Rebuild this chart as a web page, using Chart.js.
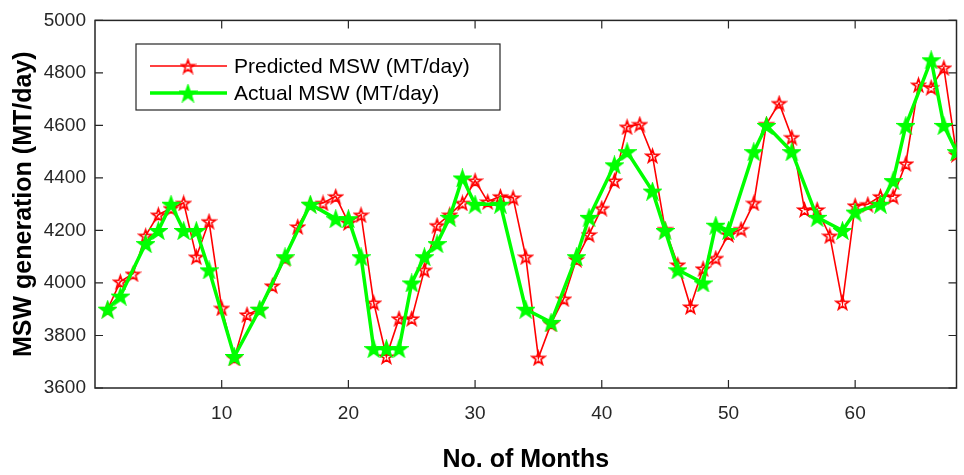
<!DOCTYPE html>
<html>
<head>
<meta charset="utf-8">
<script src="https://cdn.jsdelivr.net/npm/chart.js@4.4.1/dist/chart.umd.min.js"></script>
<style>
  html, body { margin: 0; padding: 0; background: #fff; }
  #wrap { width: 964px; height: 475px; }
</style>
</head>
<body>
<div id="wrap"><canvas id="msw"></canvas></div>
<script>
// predicted series, one value per month
var months = [1, 2, 3, 4, 5, 6, 7, 8, 9, 10, 11, 12, 13, 14, 15, 16, 17, 18, 19, 20,
    21, 22, 23, 24, 25, 26, 27, 28, 29, 30, 31, 32, 33, 34, 35, 36, 37, 38, 39, 40,
    41, 42, 43, 44, 45, 46, 47, 48, 49, 50, 51, 52, 53, 54, 55, 56, 57, 58, 59, 60,
    61, 62, 63, 64, 65, 66, 67, 68];
var predicted = [3900, 4005, 4035, 4180, 4260, 4285, 4305, 4100, 4235, 3905,
    3715, 3880, 3900, 3990, 4095, 4215, 4300, 4305, 4330, 4230,
    4260, 3925, 3720, 3865, 3865, 4050, 4220, 4260, 4305, 4390,
    4310, 4330, 4325, 4100, 3715, 3845, 3940, 4090, 4185, 4285,
    4390, 4595, 4605, 4485, 4205, 4070, 3910, 4055, 4095, 4185,
    4205, 4305, 4605, 4685, 4555, 4280, 4280, 4180, 3925, 4295,
    4300, 4330, 4330, 4455, 4755, 4745, 4820, 4490];

// actual series is only given for some months
var actualMonths = [1, 2, 4, 5, 6, 7, 8, 9, 11, 13, 15, 17, 19, 20, 21, 22, 23, 24, 25, 26,
    27, 28, 29, 30, 32, 34, 36, 38, 39, 41, 42, 44, 45, 46, 48, 49, 50, 52, 53, 55,
    57, 59, 60, 62, 63, 64, 66, 67, 68];
var actual = [3900, 3950, 4150, 4200, 4300, 4200, 4200, 4050, 3720, 3900,
    4100, 4300, 4245, 4245, 4100, 3750, 3750, 3750, 4000, 4100,
    4150, 4250, 4400, 4300, 4300, 3900, 3850, 4100, 4250, 4450,
    4500, 4350, 4200, 4050, 4000, 4220, 4200, 4500, 4600, 4500,
    4250, 4200, 4270, 4300, 4390, 4600, 4850, 4600, 4500];

var seriesNames = ['Predicted MSW (MT/day)', 'Actual MSW (MT/day)'];
var xTicks = [10, 20, 30, 40, 50, 60];
var yTicks = [3600, 3800, 4000, 4200, 4400, 4600, 4800, 5000];

var FONT = "'Liberation Sans', Arial, Helvetica, sans-serif";
var AXIS = '#262626';

// pentagram marker like matlab's 'p'
function starImage(size, stroke, fill, lw) {
    var c = document.createElement('canvas');
    c.width = size; c.height = size;
    var g = c.getContext('2d');
    var cx = size / 2, cy = size / 2 + size * 0.05;
    var R = size / 2 - lw, r = R * 0.4;
    g.beginPath();
    for (var i = 0; i < 10; i++) {
        var a = -Math.PI / 2 + i * Math.PI / 5;
        var rad = i % 2 ? r : R;
        g.lineTo(cx + rad * Math.cos(a), cy + rad * Math.sin(a));
    }
    g.closePath();
    if (fill) { g.fillStyle = fill; g.fill(); }
    g.lineWidth = lw;
    g.strokeStyle = stroke;
    g.lineJoin = 'miter';
    g.stroke();
    return c;
}

var redStar = starImage(17, '#ff0000', null, 1.7);
var greenStar = starImage(19, '#00ff00', '#00ff00', 2.8);

function toPoints(xs, ys) {
    return xs.map(function (x, i) { return { x: x, y: ys[i] }; });
}

var frame = {
    id: 'frame',
    beforeDatasetsDraw: function (chart) {
        var ctx = chart.ctx, a = chart.chartArea;
        var xs = chart.scales.x, ys = chart.scales.y;
        var len = 8;
        ctx.save();
        ctx.strokeStyle = AXIS;
        ctx.lineWidth = 1.5;
        ctx.strokeRect(a.left, a.top, a.right - a.left, a.bottom - a.top);
        ctx.lineWidth = 1.2;
        ctx.beginPath();
        xs.ticks.forEach(function (t) {
            var px = xs.getPixelForValue(t.value);
            ctx.moveTo(px, a.bottom); ctx.lineTo(px, a.bottom - len);
            ctx.moveTo(px, a.top); ctx.lineTo(px, a.top + len);
        });
        ys.ticks.forEach(function (t) {
            var py = ys.getPixelForValue(t.value);
            ctx.moveTo(a.left, py); ctx.lineTo(a.left + len, py);
            ctx.moveTo(a.right, py); ctx.lineTo(a.right - len, py);
        });
        ctx.stroke();
        ctx.restore();
    },
    afterDraw: function (chart) {
        // legend box, top left like the original figure
        var ctx = chart.ctx;
        var bx = 136, by = 44, bw = 364, bh = 66;
        var rows = [
            { y: 66, color: '#ff0000', lw: 1.6, img: redStar },
            { y: 93, color: '#00ff00', lw: 3.5, img: greenStar }
        ];
        ctx.save();
        ctx.fillStyle = '#fff';
        ctx.fillRect(bx, by, bw, bh);
        ctx.strokeStyle = AXIS;
        ctx.lineWidth = 1.2;
        ctx.strokeRect(bx, by, bw, bh);
        rows.forEach(function (r, i) {
            ctx.strokeStyle = r.color;
            ctx.lineWidth = r.lw;
            ctx.beginPath();
            ctx.moveTo(150, r.y); ctx.lineTo(227, r.y);
            ctx.stroke();
            ctx.drawImage(r.img, 188 - r.img.width / 2, r.y - r.img.height / 2);
            ctx.fillStyle = '#000';
            ctx.font = '21px ' + FONT;
            ctx.textBaseline = 'middle';
            ctx.textAlign = 'left';
            ctx.fillText(seriesNames[i], 234, r.y + 1);
        });
        ctx.restore();
    }
};

var config = {
    type: 'line',
    data: {
        datasets: [{
            label: seriesNames[0],
            data: toPoints(months, predicted),
            borderColor: '#ff0000',
            borderWidth: 1.6,
            pointStyle: redStar,
            tension: 0,
            order: 1
        }, {
            label: seriesNames[1],
            data: toPoints(actualMonths, actual),
            borderColor: '#00ff00',
            borderWidth: 3.5,
            pointStyle: greenStar,
            tension: 0,
            order: 0
        }]
    },
    options: {
        responsive: true,
        maintainAspectRatio: false,
        animation: false,
        layout: {
            padding: { top: 16, right: 5, left: 0, bottom: 0 }
        },
        plugins: {
            legend: { display: false },
            tooltip: { enabled: false }
        },
        scales: {
            x: {
                type: 'linear',
                min: 0,
                max: 68,
                afterBuildTicks: function (s) {
                    s.ticks = xTicks.map(function (v) { return { value: v }; });
                },
                afterFit: function (s) { s.height = 87; },
                grid: { display: false, drawTicks: false, tickLength: 0 },
                border: { display: false },
                ticks: {
                    color: '#262626',
                    padding: 14,
                    maxRotation: 0,
                    font: { family: FONT, size: 19 },
                    callback: function (v) { return String(v); }
                },
                title: {
                    display: true,
                    text: 'No. of Months',
                    color: '#000',
                    padding: { top: 0, bottom: 0 },
                    font: { family: FONT, size: 25, weight: 'bold' }
                }
            },
            y: {
                min: 3600,
                max: 5000,
                afterBuildTicks: function (s) {
                    s.ticks = yTicks.map(function (v) { return { value: v }; });
                },
                afterFit: function (s) { s.width = 95; },
                grid: { display: false, drawTicks: false, tickLength: 0 },
                border: { display: false },
                ticks: {
                    color: '#262626',
                    padding: 9,
                    font: { family: FONT, size: 19 },
                    callback: function (v) { return String(v); }
                },
                title: {
                    display: true,
                    text: 'MSW generation (MT/day)',
                    color: '#000',
                    padding: { top: 9, bottom: 0 },
                    font: { family: FONT, size: 25, weight: 'bold' }
                }
            }
        }
    },
    plugins: [frame]
};

window.onload = function () {
    var ctx = document.getElementById('msw').getContext('2d');
    window.mswChart = new Chart(ctx, config);
};
</script>
</body>
</html>
